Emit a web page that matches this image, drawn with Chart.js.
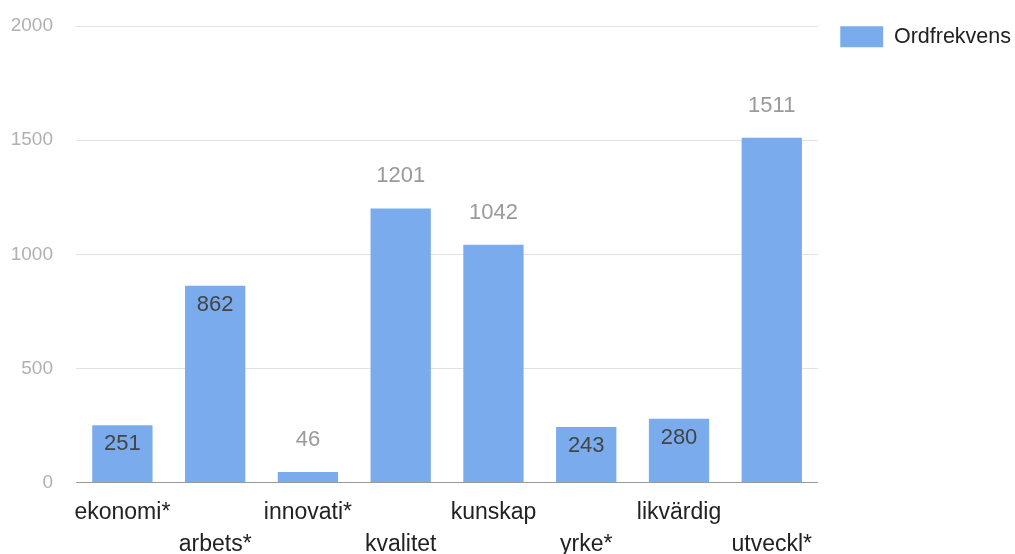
<!DOCTYPE html>
<html>
<head>
<meta charset="utf-8">
<script src="https://cdn.jsdelivr.net/npm/chart.js@4/dist/chart.umd.min.js"></script>
<style>
  body { margin: 0; background: #fff; }
  #wrap { width: 1015px; height: 554px; position: relative; }
</style>
</head>
<body>
<div id="wrap"><canvas id="chart"></canvas></div>
<script>
// Chart data
const categories = ['ekonomi*', 'arbets*', 'innovati*', 'kvalitet', 'kunskap', 'yrke*', 'likvärdig', 'utveckl*'];
const frequencies = [251, 862, 46, 1201, 1042, 243, 280, 1511];
const yTicks = [0, 500, 1000, 1500, 2000];
const seriesName = 'Ordfrekvens';

// bars whose value label sits inside the top of the bar
const labelInside = [true, true, false, false, false, true, true, false];

const FONT = '"Liberation Sans", Arial, sans-serif';
const BAR_COLOR = '#7aabed';

// staggered axis labels: odd categories drop to a second line
const axisLabels = categories.map((c, i) => (i % 2 === 1 ? ['', c] : c));

const valueLabels = {
    id: 'valueLabels',
    afterDatasetsDraw(chart) {
        const ctx = chart.ctx;
        const meta = chart.getDatasetMeta(0);
        ctx.save();
        ctx.font = '22px ' + FONT;
        ctx.textAlign = 'center';
        ctx.textBaseline = 'middle';
        meta.data.forEach((bar, i) => {
            const v = frequencies[i];
            if (labelInside[i]) {
                ctx.fillStyle = '#444444';
                ctx.fillText(String(v), bar.x, bar.y + 19);
            } else {
                ctx.fillStyle = '#9a9a9a';
                ctx.fillText(String(v), bar.x, bar.y - 32);
            }
        });
        ctx.restore();
    }
};

new Chart(document.getElementById('chart'), {
    type: 'bar',
    data: {
        labels: axisLabels,
        datasets: [{
            label: seriesName,
            data: frequencies,
            backgroundColor: BAR_COLOR,
            borderWidth: 0,
            barPercentage: 0.65,
            categoryPercentage: 1.0
        }]
    },
    options: {
        responsive: true,
        maintainAspectRatio: false,
        animation: false,
        layout: {
            padding: { top: 26, left: 11, right: -6, bottom: -21 }
        },
        scales: {
            x: {
                grid: { display: false, drawTicks: false },
                border: { display: false },
                ticks: {
                    autoSkip: false,
                    maxRotation: 0,
                    minRotation: 0,
                    padding: 14,
                    color: '#222222',
                    font: { family: FONT, size: 23, lineHeight: 1.4 }
                },
                afterFit(scale) {
                    scale.paddingLeft = 0;
                    scale.paddingRight = 0;
                }
            },
            y: {
                min: 0,
                max: 2000,
                afterBuildTicks(scale) {
                    scale.ticks = yTicks.map(v => ({ value: v }));
                },
                grid: {
                    drawTicks: false,
                    color: ctx => (ctx.tick && ctx.tick.value === 0 ? '#9a9a9a' : '#e2e2e2'),
                    lineWidth: 1
                },
                border: { display: false },
                ticks: {
                    padding: 23,
                    color: '#b0b0b0',
                    font: { family: FONT, size: 19 },
                    callback: v => String(v)
                },
                afterFit(scale) {
                    scale.width = 65;
                    scale.paddingTop = 0;
                    scale.paddingBottom = 0;
                }
            },
            // empty right-hand axis: keeps a gap between the plot and the legend
            gap: {
                position: 'right',
                min: 0,
                max: 1,
                grid: { display: false, drawTicks: false },
                border: { display: false },
                ticks: { display: false },
                afterFit(scale) {
                    scale.width = 22;
                    scale.paddingTop = 0;
                    scale.paddingBottom = 0;
                }
            }
        },
        plugins: {
            legend: {
                position: 'right',
                align: 'start',
                maxWidth: 300,
                labels: {
                    boxWidth: 43,
                    boxHeight: 21,
                    padding: 0,
                    color: '#222222',
                    font: { family: FONT, size: 21.5 }
                }
            },
            tooltip: { enabled: false }
        }
    },
    plugins: [valueLabels]
});
</script>
</body>
</html>
